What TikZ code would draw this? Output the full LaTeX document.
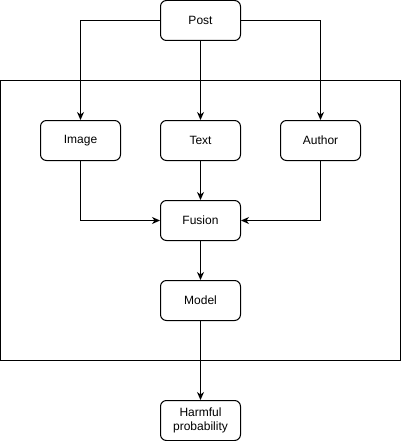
\documentclass[tikz,border=0pt]{standalone}
\usepackage{fontspec}
\setmainfont{Liberation Sans}
\usetikzlibrary{arrows.meta}
\begin{document}
\begin{tikzpicture}[x=1pt,y=-1pt,
  box/.style={draw, line width=1pt, rounded corners=6pt, minimum width=80pt, minimum height=40pt, inner sep=0pt, align=center, font=\fontsize{12}{14}\selectfont},
  conn/.style={draw, line width=1pt, -{Stealth[length=8pt,width=7pt,inset=2.5pt]}}]
\useasboundingbox (0,0) rectangle (401,441);
\node[draw, line width=1pt, minimum width=400pt, minimum height=280pt, inner sep=0pt] (frame) at (200.5,220.5) {};
\node[box] (post) at (200.5,20.5) {Post};
\node[box] (image) at (80.5,140.5) {Image};
\node[box] (text) at (200.5,140.5) {Text};
\node[box] (author) at (320.5,140.5) {Author};
\node[box] (fusion) at (200.5,220.5) {Fusion};
\node[box] (model) at (200.5,300.5) {Model};
\node[box] (harm) at (200.5,420.5) {Harmful\\probability};
\draw[conn] (post.west) -| (image.north);
\draw[conn] (post.east) -| (author.north);
\draw[conn] (post.south) -- (text.north);
\draw[conn] (image.south) |- (fusion.west);
\draw[conn] (author.south) |- (fusion.east);
\draw[conn] (text.south) -- (fusion.north);
\draw[conn] (fusion.south) -- (model.north);
\draw[conn] (model.south) -- (harm.north);
\end{tikzpicture}
\end{document}
